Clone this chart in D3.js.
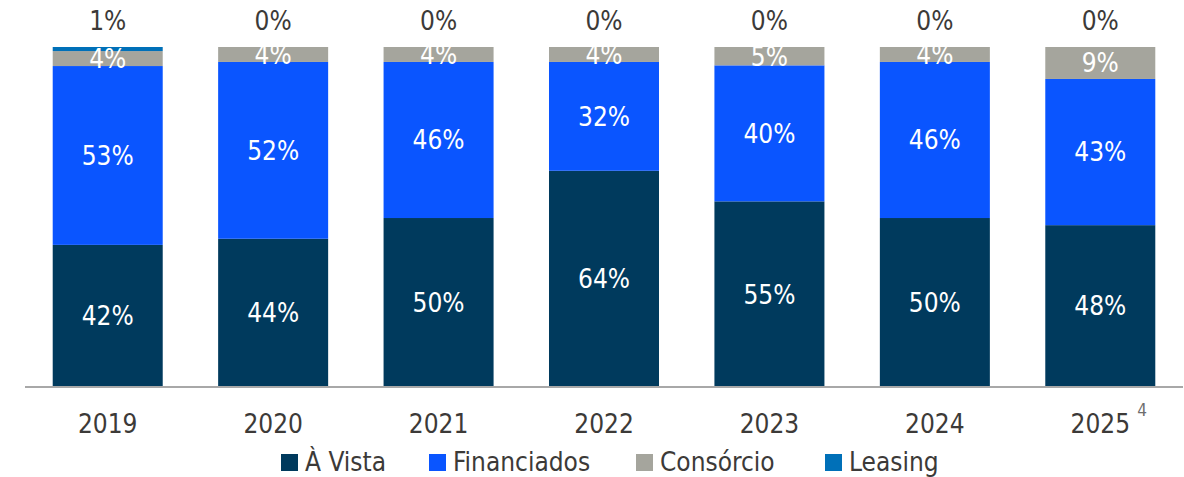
<!DOCTYPE html>
<html>
<head>
<meta charset="utf-8">
<script src="https://cdn.jsdelivr.net/npm/d3@7"></script>
<style>
  body { margin: 0; background: #fff; }
  svg { font-family: "DejaVu Sans Condensed", "DejaVu Sans", sans-serif; }
</style>
</head>
<body>
<svg id="chart" width="1184" height="477"></svg>
<script>
const years = ["2019", "2020", "2021", "2022", "2023", "2024", "2025"];
const aVista = [41.8, 43.6, 49.7, 63.6, 54.6, 49.7, 47.6];
const financiados = [52.6, 52.0, 45.9, 32.0, 40.0, 45.9, 43.0];
const consorcio = [4.4, 4.4, 4.4, 4.4, 5.4, 4.4, 9.4];
const leasing = [1.2, 0, 0, 0, 0, 0, 0];
const seriesNames = ["À Vista", "Financiados", "Consórcio", "Leasing"];
const colors = ["#003a5d", "#0a55ff", "#a5a59d", "#0070b8"];

const svg = d3.select("#chart");
const baseY = 387, topY = 47;
const fs = 26;

const rows = years.map((y, i) => ({
  year: y, "À Vista": aVista[i], "Financiados": financiados[i],
  "Consórcio": consorcio[i], "Leasing": leasing[i]
}));
const stack = d3.stack().keys(seriesNames)(rows);

const x = d3.scaleBand().domain(years).range([25, 1183])
  .paddingInner(0.335).paddingOuter(0.1675);
const y = d3.scaleLinear().domain([0, 100]).range([baseY, topY]);
const color = d3.scaleOrdinal().domain(seriesNames).range(colors);

// bars
svg.append("g").selectAll("g").data(stack).join("g")
  .attr("fill", d => color(d.key))
  .selectAll("rect").data(d => d).join("rect")
  .attr("x", d => x(d.data.year))
  .attr("width", x.bandwidth())
  .attr("y", d => y(d[1]))
  .attr("height", d => y(d[0]) - y(d[1]));

// labels inside (first three series)
stack.slice(0, 3).forEach(s => {
  svg.append("g").selectAll("text").data(s).join("text")
    .attr("x", d => x(d.data.year) + x.bandwidth() / 2)
    .attr("y", d => (y(d[0]) + y(d[1])) / 2)
    .attr("dy", "0.36em")
    .attr("text-anchor", "middle")
    .attr("fill", "#fff")
    .attr("font-size", fs)
    .text(d => Math.round(d[1] - d[0]) + "%");
});

// leasing labels above the bar
svg.append("g").selectAll("text").data(stack[3]).join("text")
  .attr("x", d => x(d.data.year) + x.bandwidth() / 2)
  .attr("y", 21)
  .attr("dy", "0.36em")
  .attr("text-anchor", "middle")
  .attr("fill", "#3c3a38")
  .attr("font-size", fs)
  .text(d => Math.round(d[1] - d[0]) + "%");

// x axis
const xAxis = svg.append("g").attr("transform", `translate(0,${baseY})`)
  .call(d3.axisBottom(x).tickSize(0).tickPadding(28));
xAxis.select(".domain").attr("stroke", "#a8a8a8").attr("stroke-width", 2)
  .attr("d", "M25,0H1183");
xAxis.selectAll(".tick text")
  .attr("font-size", fs).attr("fill", "#3c3a38")
  .attr("font-family", "\"DejaVu Sans Condensed\", sans-serif");

svg.append("text")
  .attr("x", x("2025") + x.bandwidth() / 2 + 37)
  .attr("y", 416)
  .attr("fill", "#6e6e6e")
  .attr("font-size", 17)
  .text("4");

// legend
const legendX = [281, 429, 636, 825];
const leg = svg.append("g");
seriesNames.forEach((name, i) => {
  const g = leg.append("g").attr("transform", `translate(${legendX[i]},454)`);
  g.append("rect").attr("width", 17).attr("height", 17).attr("fill", colors[i]);
  g.append("text").attr("x", 24).attr("y", 8).attr("dy", "0.36em")
    .attr("font-size", fs).attr("fill", "#3c3a38").text(name);
});
</script>
</body>
</html>
